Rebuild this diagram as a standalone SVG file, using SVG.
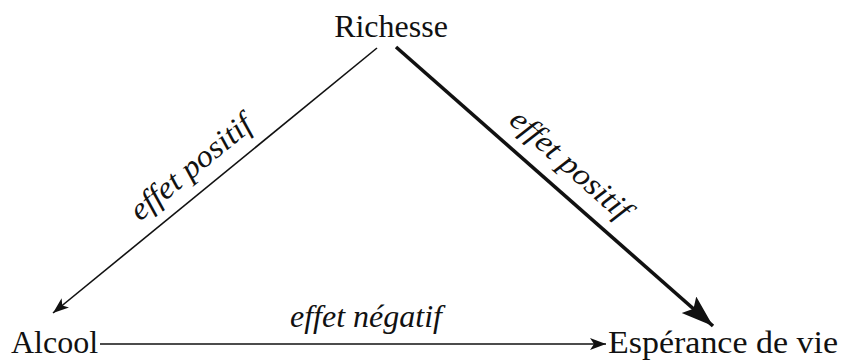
<svg xmlns="http://www.w3.org/2000/svg" width="842" height="360" viewBox="0 0 842 360">
<style>
.lbl{font-family:"Liberation Serif","Times New Roman",serif;font-size:32px;fill:#111}
.it{font-family:"Liberation Serif","Times New Roman",serif;font-style:italic;font-size:31px;fill:#111}
.thin{stroke:#111;stroke-width:1.6;fill:none}
.thick{stroke:#111;stroke-width:3.6;fill:none}
</style>
<defs>
<marker id="ah" markerUnits="userSpaceOnUse" markerWidth="20" markerHeight="14" refX="16" refY="6" orient="auto">
<path d="M0,0 L16,6 L0,12 L4,6 Z" fill="#111"/>
</marker>
<marker id="ahb" markerUnits="userSpaceOnUse" markerWidth="36" markerHeight="26" refX="32" refY="11" orient="auto">
<path d="M0,0 L32,11 L0,22 L6,11 Z" fill="#111"/>
</marker>
</defs>
<rect width="842" height="360" fill="#fff"/>
<g id="richesse"><text class="lbl" x="391" y="37" text-anchor="middle">Richesse</text></g>
<g id="alcool"><text class="lbl" x="11" y="353">Alcool</text></g>
<g id="esperance"><text class="lbl" x="608" y="353" textLength="230" lengthAdjust="spacingAndGlyphs">Espérance de vie</text></g>
<g id="connectors">
<line class="thin" x1="377" y1="48" x2="53" y2="313" marker-end="url(#ah)"/>
<line class="thick" x1="396" y1="47" x2="713" y2="326" marker-end="url(#ahb)"/>
<line class="thin" x1="100" y1="344" x2="606" y2="344" marker-end="url(#ah)"/>
<text class="it" transform="translate(197,175) rotate(-39.3)" text-anchor="middle" textLength="148" lengthAdjust="spacingAndGlyphs">effet positif</text>
<text class="it" transform="translate(564,172) rotate(41.5)" text-anchor="middle" textLength="150" lengthAdjust="spacingAndGlyphs">effet positif</text>
<text class="it" x="366" y="327" text-anchor="middle" textLength="152" lengthAdjust="spacingAndGlyphs">effet négatif</text>
</g>
</svg>
